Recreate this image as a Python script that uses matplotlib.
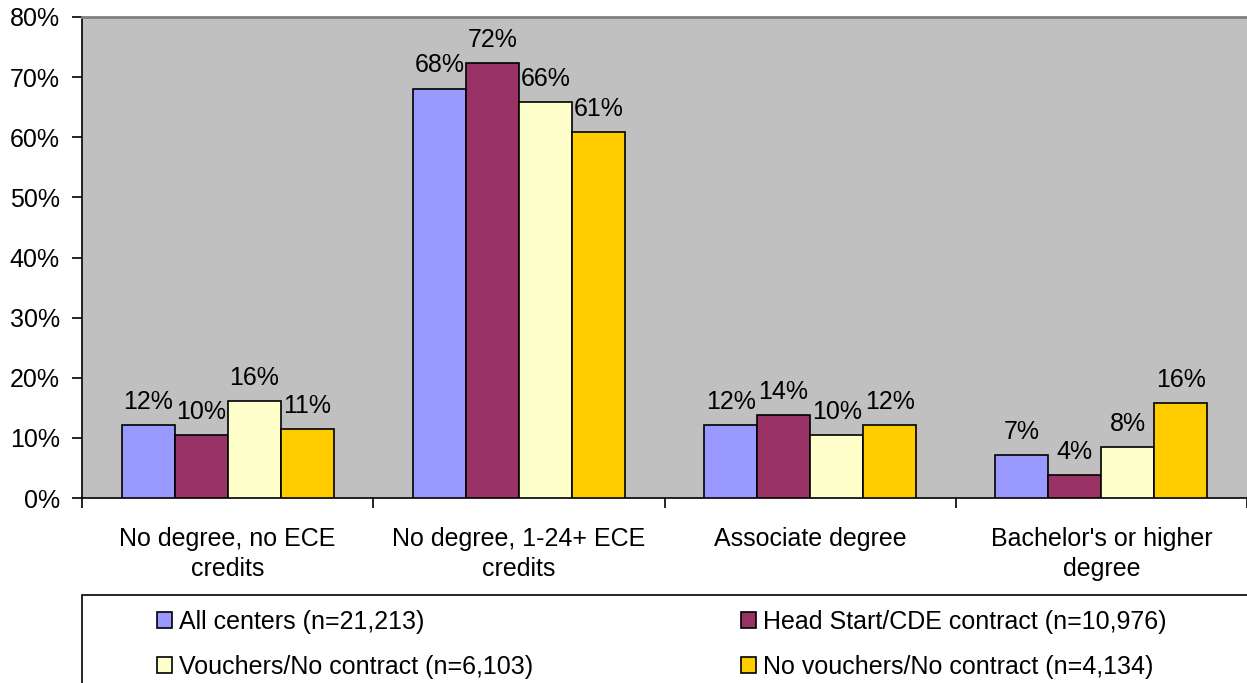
import matplotlib.pyplot as plt
import numpy as np
from matplotlib.patches import Rectangle

plt.rcParams['font.family'] = ['Liberation Sans', 'DejaVu Sans']

categories = ["No degree, no ECE\ncredits", "No degree, 1-24+ ECE\ncredits",
              "Associate degree", "Bachelor's or higher\ndegree"]
series_names = ["All centers (n=21,213)", "Head Start/CDE contract (n=10,976)",
                "Vouchers/No contract (n=6,103)", "No vouchers/No contract (n=4,134)"]
all_centers = [12.1, 68.1, 12.1, 7.1]
head_start = [10.4, 72.4, 13.8, 3.8]
vouchers = [16.1, 65.8, 10.5, 8.4]
no_vouchers = [11.4, 60.8, 12.1, 15.8]
colors = ["#9999FF", "#993366", "#FFFFCC", "#FFCC00"]

series = [all_centers, head_start, vouchers, no_vouchers]
FS = 18

fig = plt.figure(figsize=(12.47, 6.83), dpi=100)
ax = fig.add_axes([82/1247, 1 - 498/683, 1 - 82/1247, (498 - 17)/683])
ax.set_facecolor("#C0C0C0")

x = np.arange(len(categories))
w = 0.182
handles = []
for i, vals in enumerate(series):
    pos = x + (i - 1.5) * w
    bars = ax.bar(pos, vals, w, color=colors[i], edgecolor="black", linewidth=1.2,
                  label=series_names[i], zorder=3)
    handles.append(bars)
    for b, v in zip(bars, vals):
        ax.annotate(f"{round(v):d}%", (b.get_x() + b.get_width() / 2, v),
                    xytext=(0, 8), textcoords="offset points",
                    ha="center", va="bottom", fontsize=FS)

ax.set_xlim(-0.5, 3.5)
ax.set_ylim(0, 80)
ax.set_yticks(range(0, 81, 10))
ax.set_yticklabels([f"{t}%" for t in range(0, 81, 10)], fontsize=FS)
ax.set_xticks(np.arange(-0.5, 4, 1))
ax.set_xticklabels([])
ax.set_xticks(x, minor=True)
ax.set_xticklabels(categories, minor=True, fontsize=FS, linespacing=1.3)
ax.tick_params(axis="x", which="minor", length=0, pad=21)
ax.tick_params(axis="x", which="major", length=7, width=1.2, direction="out")
ax.tick_params(axis="y", length=7, width=1.2, direction="out", pad=9)

ax.spines["right"].set_visible(False)
ax.spines["top"].set_color("#808080")
ax.spines["top"].set_linewidth(2)
ax.spines["left"].set_linewidth(1.2)
ax.spines["bottom"].set_linewidth(1.2)

# legend box (runs past the right and bottom edge)
fig.patches.append(Rectangle((82/1247, -0.1), 1.0, (683 - 595)/683 + 0.1,
                             transform=fig.transFigure, facecolor="white",
                             edgecolor="black", linewidth=1.2))
legend_kw = dict(loc="upper left", frameon=False, fontsize=FS, borderpad=0,
                 handlelength=0.6, handleheight=0.6, handletextpad=0.3,
                 labelspacing=0.85)
fig.legend([handles[0], handles[2]], [series_names[0], series_names[2]],
           bbox_to_anchor=(144/1247, 1 - 597/683), **legend_kw)
fig.legend([handles[1], handles[3]], [series_names[1], series_names[3]],
           bbox_to_anchor=(728/1247, 1 - 597/683), **legend_kw)

fig.savefig("out.png", dpi=100)
